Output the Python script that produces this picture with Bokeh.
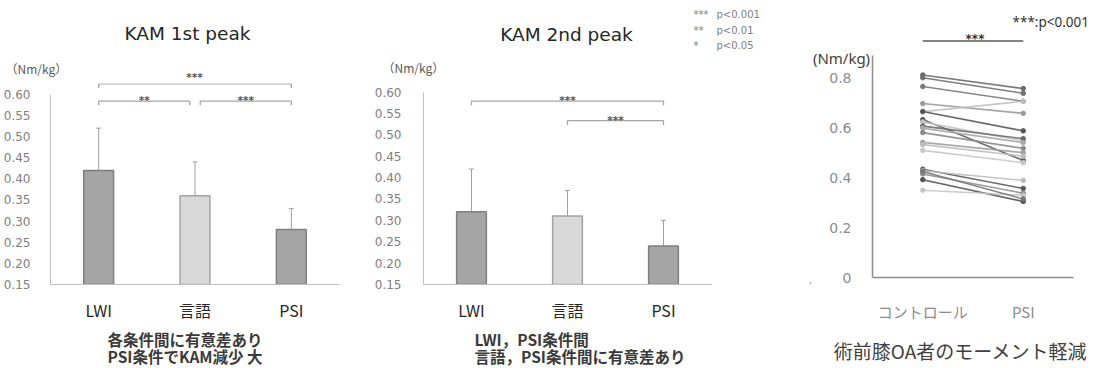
from bokeh.plotting import figure
from bokeh.models import (Range1d, FixedTicker, Label, Whisker, ColumnDataSource,
                          TeeHead, CustomJSTickFormatter, LinearAxis)
from bokeh.layouts import row, column
from bokeh.embed import file_html
from bokeh.resources import INLINE

# ---------------- data ----------------
conditions = ["LWI", "言語", "PSI"]
kam1_mean = [0.42, 0.36, 0.28]
kam1_sd = [0.10, 0.08, 0.05]
kam2_mean = [0.32, 0.31, 0.24]
kam2_sd = [0.10, 0.06, 0.06]
bar_ticks = [0.15, 0.20, 0.25, 0.30, 0.35, 0.40, 0.45, 0.50, 0.55, 0.60]
kam1_pairs = [(0, 2, "***"), (0, 1, "**"), (1, 2, "***")]
kam1_pair_level = [1, 0, 0]
kam2_pairs = [(0, 2, "***"), (1, 2, "***")]
kam2_pair_level = [1, 0]
legend_stars = ["***", "**", "*"]
legend_text = ["p<0.001", "p<0.01", "p<0.05"]
kam1_title = "KAM 1st peak"
kam2_title = "KAM 2nd peak"
kam1_notes = ["各条件間に有意差あり", "PSI条件でKAM減少 大"]
kam2_notes = ["LWI，PSI条件間", "言語，PSI条件間に有意差あり"]

slope_groups = ["コントロール", "PSI"]
slope_control = [0.810, 0.799, 0.764, 0.696, 0.664, 0.664, 0.632, 0.622, 0.606,
                 0.598, 0.580, 0.541, 0.532, 0.509, 0.434, 0.428, 0.415, 0.392,
                 0.350, 0.425]
slope_psi = [0.756, 0.737, 0.705, 0.657, 0.705, 0.587, 0.469, 0.547, 0.556,
             0.540, 0.517, 0.500, 0.486, 0.460, 0.357, 0.389, 0.338, 0.305,
             0.330, 0.315]
slope_shade = ["#6a6a6a", "#707070", "#7a7a7a", "#9a9a9a", "#c0c0c0", "#555555",
               "#5e5e5e", "#c4c4c4", "#6a6a6a", "#a8a8a8", "#8a8a8a", "#a0a0a0",
               "#bdbdbd", "#c8c8c8", "#5a5a5a", "#bcbcbc", "#8e8e8e", "#555555",
               "#c6c6c6", "#777777"]
slope_ticks = [0, 0.2, 0.4, 0.6, 0.8]
slope_sig = "***"
slope_sig_note = "***:p<0.001"
slope_note = "術前膝OA者のモーメント軽減"

# ---------------- layout (picture pixels) ----------------
TOP = 0          # top of the picture
B_TOP = 83       # where the bar panels start
AXIS_Y = 287     # x-axis lines
B_BOTTOM = 324   # where the notes strip starts
PAGE_BOTTOM = 366

JP = "Noto Sans CJK JP"
LAT = "DejaVu Sans"
STAR_SIZE = "10.5px"


def clean(p):
    p.grid.visible = False
    p.outline_line_color = None
    p.background_fill_color = None
    p.border_fill_color = "white"
    return p


def text_strip(x0, x1, y0, y1):
    p = figure(width=x1 - x0, height=y1 - y0, x_range=Range1d(x0, x1),
               y_range=Range1d(y1, y0), x_axis_type=None, y_axis_type=None,
               output_backend="svg", toolbar_location=None, min_border=0)
    return clean(p)


def lab(p, x, y, text, size, color, font=LAT, align="left", base="middle",
        style="normal"):
    p.add_layout(Label(x=x, y=y, text=text, text_align=align,
                       text_baseline=base, text_font=font, text_font_size=size,
                       text_color=color, text_font_style=style))


top_strip = text_strip(0, 760, TOP, B_TOP)
notes_strip = text_strip(0, 1092, B_BOTTOM, PAGE_BOTTOM)


def make_bar(title, means, sds, pairs, pair_level, notes, cfg, legend=False):
    frame_left = cfg["left"] + cfg["bl"]
    ppx = (cfg["w"] - cfg["bl"] - cfg["br"]) / 3.0
    scale = cfg["scale"]
    y_end = 0.15 + (AXIS_Y - B_TOP) / scale

    def page_x(x):
        return frame_left + x * ppx

    def page_y(y):
        return AXIS_Y - (y - 0.15) * scale

    p = figure(width=cfg["w"], height=B_BOTTOM - B_TOP, x_range=Range1d(0, 3),
               y_range=Range1d(0.15, y_end), output_backend="svg",
               toolbar_location=None, min_border_left=cfg["bl"],
               min_border_right=cfg["br"], min_border_top=0,
               min_border_bottom=B_BOTTOM - AXIS_Y)
    clean(p)

    xs = [i + 0.5 for i in range(len(conditions))]
    fills = ["#a5a5a5", "#d9d9d9", "#a5a5a5"]
    lines = ["#7f7f7f", "#a3a3a3", "#7f7f7f"]
    src = ColumnDataSource(dict(x=xs, top=means, fill=fills, line=lines,
                                upper=[m + s for m, s in zip(means, sds)],
                                lower=[m - s for m, s in zip(means, sds)]))
    p.vbar(x="x", top="top", bottom=0.15, width=0.31, fill_color="fill",
           line_color="line", line_width=1.5, source=src)
    p.add_layout(Whisker(source=src, base="x", upper="upper", lower="lower",
                         line_color="#a0a0a0", line_width=1,
                         upper_head=TeeHead(size=5, line_color="#a0a0a0", line_width=1),
                         lower_head=TeeHead(size=5, line_color="#a0a0a0", line_width=1)))

    # significance brackets
    tick = 0.010
    for (i, j, star), lev in zip(pairs, pair_level):
        y = cfg["b_base"] + lev * cfg["b_step"]
        x0, x1 = xs[i], xs[j]
        for (a, b, _), lv in zip(pairs, pair_level):
            if lv == lev and (a, b) != (i, j):
                if a == j:
                    x1 -= 0.055
                if b == i:
                    x0 += 0.055
        p.line([x0, x0, x1, x1], [y - tick, y, y, y - tick],
               line_color="#a6a6a6", line_width=1.3)
        base_py = page_y(y) - 1
        if base_py - 12 < B_TOP:
            lab(top_strip, page_x((x0 + x1) / 2), min(base_py, B_TOP - 7), star,
                STAR_SIZE, "#555555", align="center", base="alphabetic",
                style="bold")
        else:
            lab(p, (x0 + x1) / 2, y + 1.0 / scale, star, STAR_SIZE, "#555555",
                align="center", base="alphabetic", style="bold")

    yax = p.yaxis[0]
    yax.ticker = FixedTicker(ticks=bar_ticks)
    yax.formatter = CustomJSTickFormatter(code="return tick.toFixed(2)")
    yax.bounds = (0.15, 0.60)
    yax.axis_line_color = "#bfbfbf"
    yax.major_tick_line_color = None
    yax.minor_tick_line_color = None
    yax.major_label_standoff = cfg["standoff"]
    yax.major_label_text_font = LAT
    yax.major_label_text_font_size = "12px"
    yax.major_label_text_color = "#808080"

    xax = p.xaxis[0]
    xax.ticker = FixedTicker(ticks=xs)
    xax.formatter = CustomJSTickFormatter(args=dict(names=conditions),
                                          code="return names[Math.floor(tick)]")
    xax.bounds = (0, 3)
    xax.axis_line_color = "#bfbfbf"
    xax.major_tick_line_color = None
    xax.minor_tick_line_color = None
    xax.major_label_standoff = 7
    xax.major_label_text_font = JP
    xax.major_label_text_font_size = "16px"
    xax.major_label_text_color = "#262626"

    # texts above and below the panel
    lab(top_strip, cfg["title_x"], cfg["title_y"], title, "18.5px", "#262626",
        align="center")
    lab(top_strip, cfg["unit_x"], cfg["unit_y"], "（Nm/kg）", "12px", "#595959",
        font=JP)
    for k, line in enumerate(notes):
        lab(notes_strip, cfg["note_x"], 338 + 17.5 * k, line, "15.5px", "#3a3a3a",
            font=JP, style="bold")
    if legend:
        for k, (st, tx) in enumerate(zip(legend_stars, legend_text)):
            py = 14 + 15.5 * k
            lab(top_strip, 693, py, st, "10px", "#808080")
            lab(top_strip, 716, py, tx, "10px", "#808080")
    return p


cfg1 = dict(left=0, w=360, bl=49, br=21, scale=428.9, standoff=14,
            b_base=0.584, b_step=0.0409, title_x=187, title_y=33,
            unit_x=5, unit_y=68, note_x=107)
cfg2 = dict(left=360, w=400, bl=63, br=49, scale=434.0, standoff=16,
            b_base=0.533, b_step=0.046, title_x=566, title_y=34,
            unit_x=382, unit_y=67, note_x=474)

p1 = make_bar(kam1_title, kam1_mean, kam1_sd, kam1_pairs, kam1_pair_level,
              kam1_notes, cfg1)
p2 = make_bar(kam2_title, kam2_mean, kam2_sd, kam2_pairs, kam2_pair_level,
              kam2_notes, cfg2, legend=True)

# ---------------- slope panel ----------------
S_LEFT, S_W, S_BL, S_BR = 760, 332, 40, 0
AXIS_X3 = 872          # y-axis line
AXIS_END3 = 1073       # right end of the x-axis line
FRAME_BOTTOM3 = 297    # frame runs a little below the axis so "0" is not cut
S_SCALE = 259.1
s_ppx = (AXIS_END3 - AXIS_X3) / 2.0


def SX(px):
    return (px - AXIS_X3) / s_ppx


def SY(py):
    return (AXIS_Y - py) / S_SCALE


p3 = figure(width=S_W, height=B_BOTTOM - TOP,
            x_range=Range1d(SX(S_LEFT + S_BL), SX(S_LEFT + S_W - S_BR)),
            y_range=Range1d(SY(FRAME_BOTTOM3), SY(TOP)), output_backend="svg",
            toolbar_location=None, min_border_left=S_BL, min_border_right=S_BR,
            min_border_top=0, min_border_bottom=B_BOTTOM - FRAME_BOTTOM3)
clean(p3)
gx = [i + 0.5 for i in range(len(slope_groups))]
for c, s, col in zip(slope_control, slope_psi, slope_shade):
    p3.line([gx[0], gx[1]], [c, s], line_color=col, line_width=1.6, line_alpha=0.9)
p3.scatter(x=[gx[0]] * len(slope_control), y=slope_control, size=4.5,
           color=slope_shade)
p3.scatter(x=[gx[1]] * len(slope_psi), y=slope_psi, size=4.5, color=slope_shade)

sig_y = SY(42)
p3.line([gx[0], gx[1]], [sig_y, sig_y], line_color="#595959", line_width=1.5)
lab(p3, (gx[0] + gx[1]) / 2 + 0.02, sig_y + 1.8 / S_SCALE, slope_sig, "12px",
    "#333333", align="center", base="alphabetic", style="bold")
lab(p3, SX(1012), SY(22), slope_sig_note, "13.5px", "#333333", font="Noto Sans")
lab(p3, SX(841), SY(60), "(Nm/kg)", "15px", "#404040", font="Noto Sans",
    align="center")
lab(p3, SX(810), SY(289), ".", "13px", "#999999", font="Noto Sans",
    align="center", base="alphabetic")
lab(notes_strip, 960, 350, slope_note, "19px", "#404040", font=JP, align="center")

# y axis drawn at x = 0 of the data, inside the frame
yax = p3.yaxis[0]
yax.fixed_location = 0
yax.ticker = FixedTicker(ticks=slope_ticks)
yax.formatter = CustomJSTickFormatter(code="return tick == 0 ? '0' : tick.toFixed(1)")
yax.bounds = (0, SY(57))
yax.axis_line_color = "#8c8c8c"
yax.axis_line_width = 1.5
yax.major_tick_line_color = None
yax.minor_tick_line_color = None
yax.major_label_standoff = 15
yax.major_label_text_font = LAT
yax.major_label_text_font_size = "14px"
yax.major_label_text_color = "#8c8c8c"

# x axis: labels on the frame edge, line at y = 0
xlab = p3.xaxis[0]
xlab.ticker = FixedTicker(ticks=gx)
xlab.formatter = CustomJSTickFormatter(args=dict(names=slope_groups),
                                       code="return names[Math.floor(tick)]")
xlab.axis_line_color = None
xlab.major_tick_line_color = None
xlab.minor_tick_line_color = None
xlab.major_label_standoff = 7
xlab.major_label_text_font = JP
xlab.major_label_text_font_size = "15px"
xlab.major_label_text_color = "#8c8c8c"

xline = LinearAxis(fixed_location=0, ticker=FixedTicker(ticks=[]), bounds=(0, 2),
                   axis_line_color="#8c8c8c", axis_line_width=1.5,
                   major_tick_line_color=None, minor_tick_line_color=None,
                   major_label_standoff=0, major_tick_out=0, minor_tick_out=0)
p3.add_layout(xline, "below")

layout = column(row(column(top_strip, row(p1, p2)), p3), notes_strip)
open("out.html", "w").write(file_html(layout, INLINE))
